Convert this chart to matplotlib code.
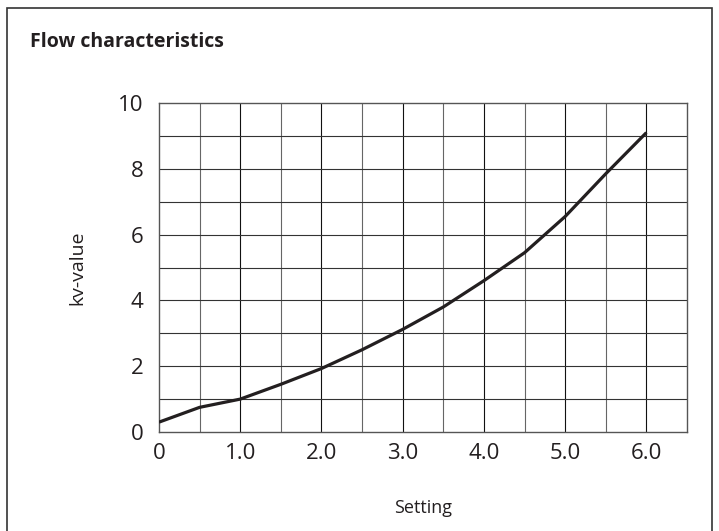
import numpy as np
import matplotlib.pyplot as plt
from matplotlib.patches import Rectangle


plt.rcParams["font.family"] = ["Open Sans", "DejaVu Sans"]

# at each half step of the setting
setting = [0.0, 0.5, 1.0, 1.5, 2.0, 2.5, 3.0, 3.5, 4.0, 4.5, 5.0, 5.5, 6.0]
kv_value = [0.3, 0.75, 1.0, 1.45, 1.93, 2.5, 3.12, 3.8, 4.6, 5.45, 6.55, 7.85, 9.1]

x_ticks = [0, 1, 2, 3, 4, 5, 6]
x_tick_labels = ["0", "1.0", "2.0", "3.0", "4.0", "5.0", "6.0"]
y_ticks = [0, 2, 4, 6, 8, 10]

INK = "#231f20"

fig = plt.figure(figsize=(7.19, 5.31), dpi=100)
ax = fig.add_axes([0.2211, 0.1864, 0.7344, 0.6196])

# grid: integer settings drawn darker than the half steps
for xv in np.arange(0.5, 6.5, 0.5):
    col = "#111111" if xv == int(xv) else "#666666"
    ax.axvline(xv, color=col, lw=0.8, zorder=1)
for yv in range(1, 10):
    ax.axhline(yv, color="#333333", lw=0.8, zorder=1)

ax.plot(setting, kv_value, color=INK, lw=2.3, solid_capstyle="butt", zorder=3)

ax.set_xlim(0, 6.5)
ax.set_ylim(0, 10)
ax.set_xticks(x_ticks)
ax.set_xticklabels(x_tick_labels)
ax.set_yticks(y_ticks)
ax.tick_params(length=0, labelsize=16, colors=INK)
ax.tick_params(axis="y", pad=11)
ax.tick_params(axis="x", pad=8)
for s in ax.spines.values():
    s.set_color("#555555")
    s.set_linewidth(1.0)

ax.set_xlabel("Setting", fontsize=13, color=INK, labelpad=25)
ax.set_ylabel("kv-value", fontsize=14, color=INK, labelpad=23)

fig.text(30 / 719, 1 - 42 / 531, "Flow characteristics", fontsize=14,
         fontweight="bold", color=INK, va="center", ha="left")

# outer frame of the figure panel
fig.patches.append(Rectangle((7 / 719, -0.05), 705 / 719, 1.05 - 8 / 531,
                             transform=fig.transFigure, fill=False,
                             edgecolor="#333333", lw=1.2))

fig.savefig("out.png", dpi=100)
